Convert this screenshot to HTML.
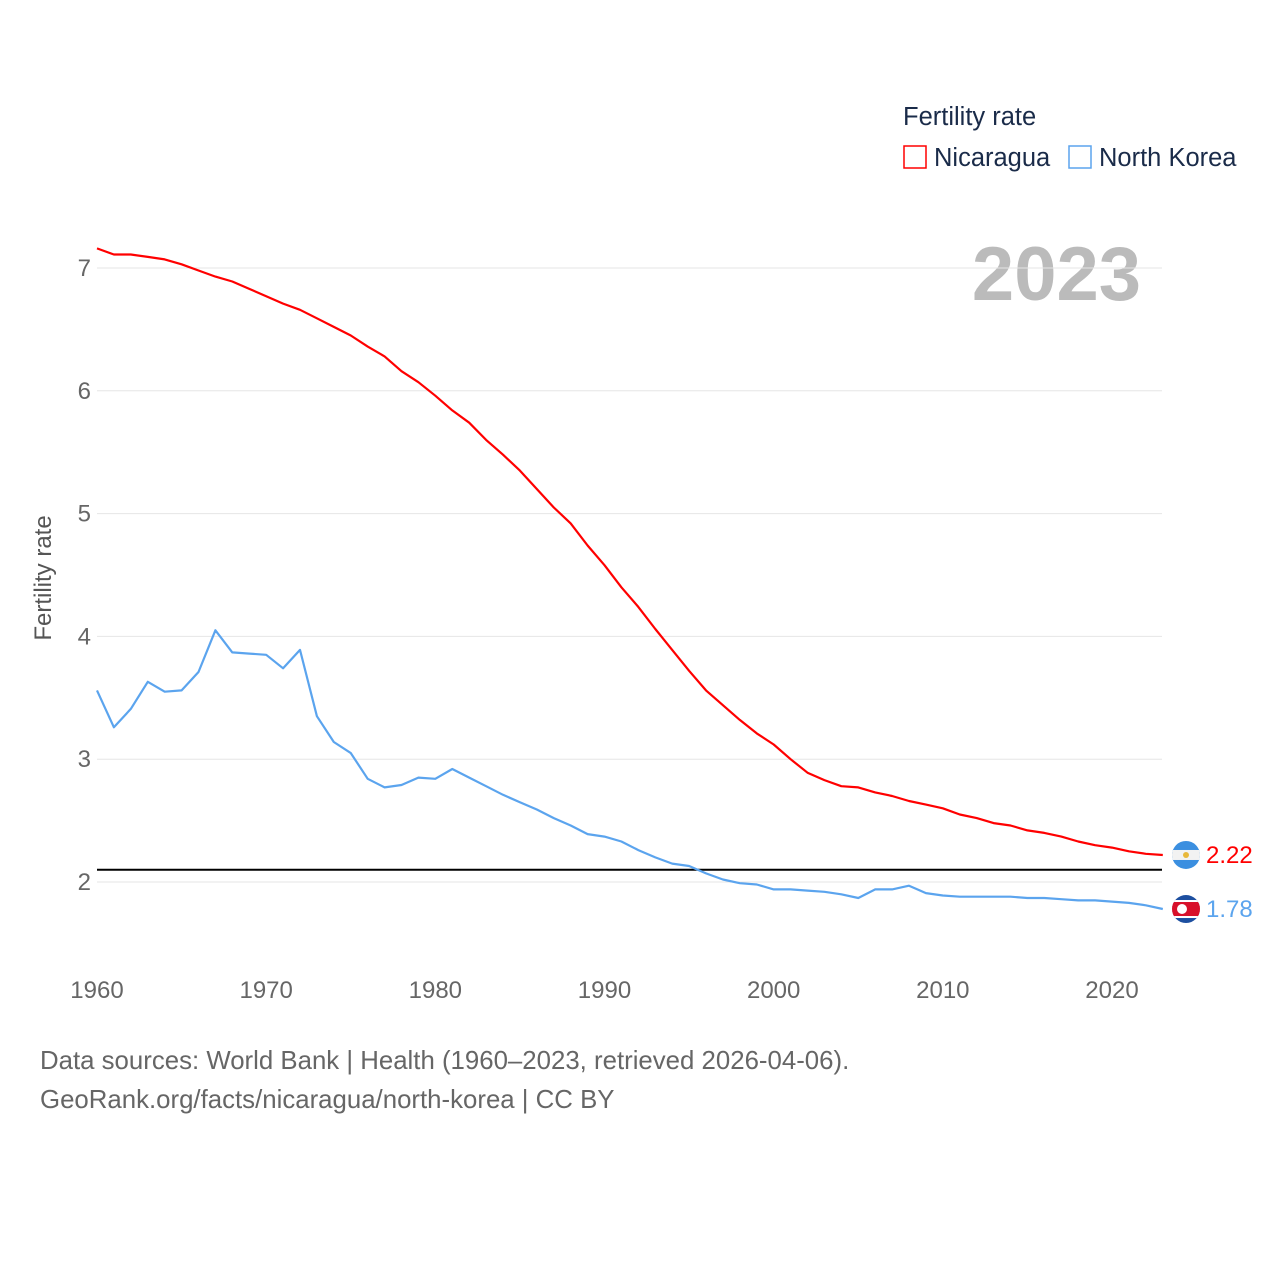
<!DOCTYPE html>
<html><head><meta charset="utf-8"><style>
body{margin:0;background:#fff;font-family:"Liberation Sans",sans-serif}
</style></head><body>
<svg width="1280" height="1280" xmlns="http://www.w3.org/2000/svg" style="font-family:'Liberation Sans',sans-serif">
<text x="903" y="125" font-size="25.5" fill="#1a2b49">Fertility rate</text>
<rect x="904" y="146" width="22" height="22" fill="none" stroke="#f00" stroke-width="1.5"/>
<text x="934" y="166" font-size="25.5" fill="#1a2b49">Nicaragua</text>
<rect x="1069" y="146" width="22" height="22" fill="none" stroke="#5ba4ee" stroke-width="1.5"/>
<text x="1099" y="166" font-size="25.5" fill="#1a2b49">North Korea</text>
<text x="1141" y="300" font-size="76" font-weight="bold" fill="#bbb" text-anchor="end">2023</text>
<g id="grid"></g><g id="marks"></g>
<text transform="translate(51,578) rotate(-90)" font-size="24" fill="#555" text-anchor="middle">Fertility rate</text>
<text x="40" y="1069" font-size="25.8" fill="#666">Data sources: World Bank | Health (1960–2023, retrieved 2026-04-06).</text>
<text x="40" y="1108" font-size="25.8" fill="#666">GeoRank.org/facts/nicaragua/north-korea | CC BY</text>
</svg>
<script>
const years=[];for(let y=1960;y<=2023;y++)years.push(y);
const nicaragua=[7.16,7.11,7.11,7.09,7.07,7.03,6.98,6.93,6.89,6.83,6.77,6.71,6.66,6.59,6.52,6.45,6.36,6.28,6.16,6.07,5.96,5.84,5.74,5.60,5.48,5.35,5.20,5.05,4.92,4.74,4.58,4.40,4.24,4.06,3.89,3.72,3.56,3.44,3.32,3.21,3.12,3.00,2.89,2.83,2.78,2.77,2.73,2.70,2.66,2.63,2.60,2.55,2.52,2.48,2.46,2.42,2.40,2.37,2.33,2.30,2.28,2.25,2.23,2.22];
const northKorea=[3.56,3.26,3.41,3.63,3.55,3.56,3.71,4.05,3.87,3.86,3.85,3.74,3.89,3.35,3.14,3.05,2.84,2.77,2.79,2.85,2.84,2.92,2.85,2.78,2.71,2.65,2.59,2.52,2.46,2.39,2.37,2.33,2.26,2.20,2.15,2.13,2.07,2.02,1.99,1.98,1.94,1.94,1.93,1.92,1.90,1.87,1.94,1.94,1.97,1.91,1.89,1.88,1.88,1.88,1.88,1.87,1.87,1.86,1.85,1.85,1.84,1.83,1.81,1.78];
const yTicks=[2,3,4,5,6,7];
const xTicks=[1960,1970,1980,1990,2000,2010,2020];
const replacement=2.1;
const NS="http://www.w3.org/2000/svg";
const X=y=>97+(y-1960)*(1015/60);
const Y=v=>882-(v-2)*122.8;
const grid=document.getElementById('grid'),marks=document.getElementById('marks');
function mk(t,a,p){const e=document.createElementNS(NS,t);for(const k in a)e.setAttribute(k,a[k]);p.appendChild(e);return e;}
yTicks.forEach(v=>{
 const l=mk('line',{x1:97,x2:1162,y1:Y(v),y2:Y(v),stroke:'#e6e6e6','stroke-width':1},grid);
 
 
 const t=mk('text',{x:91,y:Y(v)+8,'font-size':24,fill:'#666','text-anchor':'end'},grid);t.textContent=v;
 
 
});
xTicks.forEach(v=>{
 const t=mk('text',{x:X(v),y:998,'font-size':24,fill:'#666','text-anchor':'middle'},grid);t.textContent=v;
 
 
});
const rl=mk('line',{x1:97,x2:1162,y1:Y(replacement),y2:Y(replacement),stroke:'#000','stroke-width':2},marks);


let cid=0;
function series(vals,col,name){
 const d=vals.map((v,i)=>(i?'L':'M')+X(years[i]).toFixed(1)+','+Y(v).toFixed(1)).join('');
 const p=mk('path',{d:d,fill:'none',stroke:col,'stroke-width':2.2,'stroke-linejoin':'round'},marks);
 
 
 const lv=vals[vals.length-1],ly=Y(lv);
 const id='clip'+(cid++);
 const cp=mk('clipPath',{id:id},marks);mk('circle',{cx:1186,cy:ly,r:14},cp);
 const g=mk('g',{'clip-path':'url(#'+id+')'},marks);
 
 
 if(name==='nicaragua'){
  mk('rect',{x:1170,y:ly-15,width:32,height:30,fill:'#3b8fe0'},g);
  mk('rect',{x:1170,y:ly-5,width:32,height:10,fill:'#f2f2f2'},g);
  mk('circle',{cx:1186,cy:ly,r:3,fill:'#e8b83a'},g);
 }else{
  mk('rect',{x:1170,y:ly-15,width:32,height:30,fill:'#1d4fa0'},g);
  mk('rect',{x:1170,y:ly-9,width:32,height:18,fill:'#fff'},g);
  mk('rect',{x:1170,y:ly-7,width:32,height:14,fill:'#d8102a'},g);
  mk('circle',{cx:1182,cy:ly,r:5,fill:'#fff'},g);
 }
 const t=mk('text',{x:1206,y:ly+8,'font-size':24,fill:col},marks);t.textContent=lv.toFixed(2);
 
 
}
series(nicaragua,'#f00','nicaragua');
series(northKorea,'#5ba4ee','north-korea');
</script>
</body></html>
